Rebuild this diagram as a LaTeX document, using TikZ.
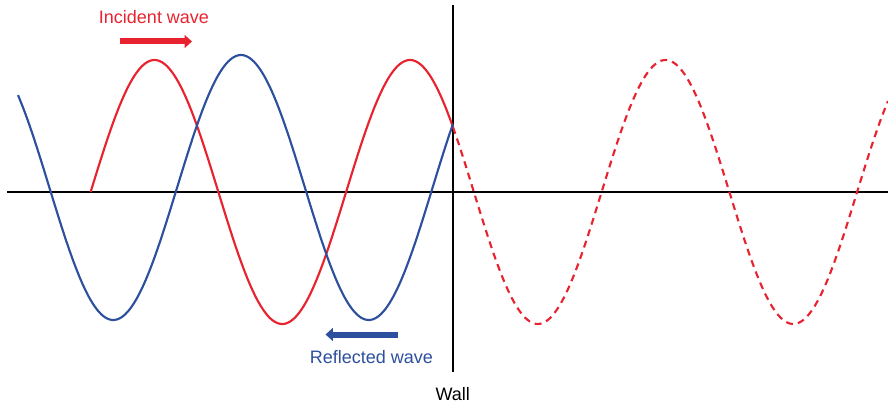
\documentclass[tikz,border=0pt]{standalone}
\usepackage{fontspec}
\setmainfont{Liberation Sans}
\usetikzlibrary{arrows.meta}
\definecolor{wred}{HTML}{E8232F}
\definecolor{wblue}{HTML}{2C4F9E}
\begin{document}
\begin{tikzpicture}[x=0.75pt,y=-0.75pt,
  axisline/.style={black,line width=0.9pt},
  wave/.style={line width=1.6pt,line join=round},
  dirarrow/.style={line width=4.5pt,-{Triangle[length=5.5pt,width=9.5pt]}},
  lbl/.style={font=\fontsize{13.5pt}{16pt}\selectfont,inner sep=0pt}]
\useasboundingbox (0,0) rectangle (888,406);
% axes
\coordinate (axL) at (7,192);
\coordinate (axR) at (888,192);
\coordinate (wallT) at (453,5);
\coordinate (wallB) at (453,372);
\draw[axisline] (axL) -- (axR);
\draw[axisline] (wallT) -- (wallB);
% incident wave (solid up to wall, dashed beyond)
\draw[wave,wred] plot[domain=90.6:453,samples=200,smooth] (\x,{192-132*cos((\x-410)/255.5*360)});
\draw[wave,wred,dash pattern=on 5.2pt off 3.8pt] plot[domain=453:888,samples=200,smooth] (\x,{192-132*cos((\x-410)/255.5*360)});
% reflected wave
\draw[wave,wblue] plot[domain=18:453,samples=200,smooth] (\x,{187.5-132.5*cos((\x-241)/255.5*360)});
% direction arrows
\coordinate (incS) at (120,41.5);
\coordinate (incE) at (192,41.5);
\coordinate (refS) at (397.5,334.5);
\coordinate (refE) at (325.5,334.5);
\draw[dirarrow,wred] (incS) -- (incE);
\draw[dirarrow,wblue] (refS) -- (refE);
% labels
\node[lbl,text=wred] (inc) at (154,17) {Incident wave};
\node[lbl,text=wblue] (ref) at (371.5,357) {Reflected wave};
\node[lbl] (wall) at (452.7,394) {Wall};
\end{tikzpicture}
\end{document}
